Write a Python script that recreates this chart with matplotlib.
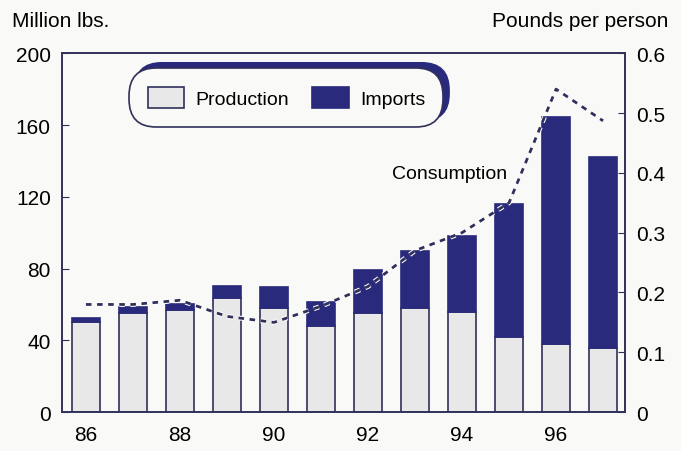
import matplotlib
matplotlib.use('Agg')
import matplotlib.pyplot as plt
import matplotlib.patheffects as pe

years = [86, 87, 88, 89, 90, 91, 92, 93, 94, 95, 96, 97]
production = [50, 55.5, 57, 63.5, 58, 48, 55, 58, 56, 42, 38, 36]
total = [52.5, 58.5, 60.5, 70.5, 70, 61.5, 79, 90, 98, 116, 164.5, 142]
imports = [t - p for t, p in zip(total, production)]
consumption = [0.18, 0.18, 0.187, 0.16, 0.15, 0.177, 0.21, 0.27, 0.30, 0.35, 0.54, 0.487]
tick_years = [86, 88, 90, 92, 94, 96]

navy = '#2a2a7c'
dark = '#30305a'
bg = '#f9f9f7'
plt.rcParams['font.family'] = ['Liberation Sans', 'DejaVu Sans']

fig = plt.figure(figsize=(6.81, 4.52), dpi=100, facecolor=bg)
ax = fig.add_axes([0.091, 0.086, 0.827, 0.794], facecolor=bg)

ax.bar(years, production, width=0.6, color='#e8e8e8', edgecolor=dark,
       linewidth=1.2, label='Production', zorder=2)
ax.bar(years, imports, bottom=production, width=0.6, color=navy,
       edgecolor=navy, linewidth=1.2, label='Imports', zorder=2)

ax.set_xlim(85.49, 97.47)
ax.set_ylim(0, 200)
ax.set_yticks([0, 40, 80, 120, 160, 200])
ax.set_xticks(tick_years)
ax.set_xticklabels([str(y) for y in tick_years])
ax.tick_params(axis='y', direction='in', length=5, labelsize=15, color=dark, pad=8)
ax.tick_params(axis='x', length=0, labelsize=15, pad=9)
for s in ax.spines.values():
    s.set_color(dark)
    s.set_linewidth(1.2)

leg = ax.legend(loc='upper left', bbox_to_anchor=(0.126, 0.947), ncol=2, fontsize=14,
                frameon=True, fancybox=True, handlelength=1.9, handleheight=1.3,
                handletextpad=0.55, columnspacing=1.2, borderpad=0.75, borderaxespad=0,
                shadow={'color': navy, 'alpha': 1, 'ox': 4, 'oy': 4})
leg.get_frame().set_edgecolor(dark)
leg.get_frame().set_facecolor(bg)
leg.get_frame().set_linewidth(1.2)
leg.get_frame().set_boxstyle('round,pad=0.2,rounding_size=1.4')

ax2 = ax.twinx()
ax2.patch.set_visible(False)
ax2.set_ylim(0, 0.6)
ax2.set_yticks([0, 0.1, 0.2, 0.3, 0.4, 0.5, 0.6])
ax2.set_yticklabels(['0', '0.1', '0.2', '0.3', '0.4', '0.5', '0.6'])
ax2.tick_params(axis='y', direction='in', length=5, labelsize=15, color=dark, pad=8)
for s in ax2.spines.values():
    s.set_color(dark)
    s.set_linewidth(1.2)
ax2.plot(years, consumption, color=dark, linestyle=(0, (2.0, 2.0)), linewidth=2,
         path_effects=[pe.Stroke(linewidth=3.5, foreground='white'), pe.Normal()], zorder=3)
ax2.text(0.689, 0.665, 'Consumption', transform=ax2.transAxes, ha='center',
         va='center', fontsize=14)

fig.text(0.018, 0.952, 'Million lbs.', fontsize=15, ha='left', va='center')
fig.text(0.982, 0.952, 'Pounds per person', fontsize=15, ha='right', va='center')

fig.savefig('out.png', dpi=100, facecolor=bg)
